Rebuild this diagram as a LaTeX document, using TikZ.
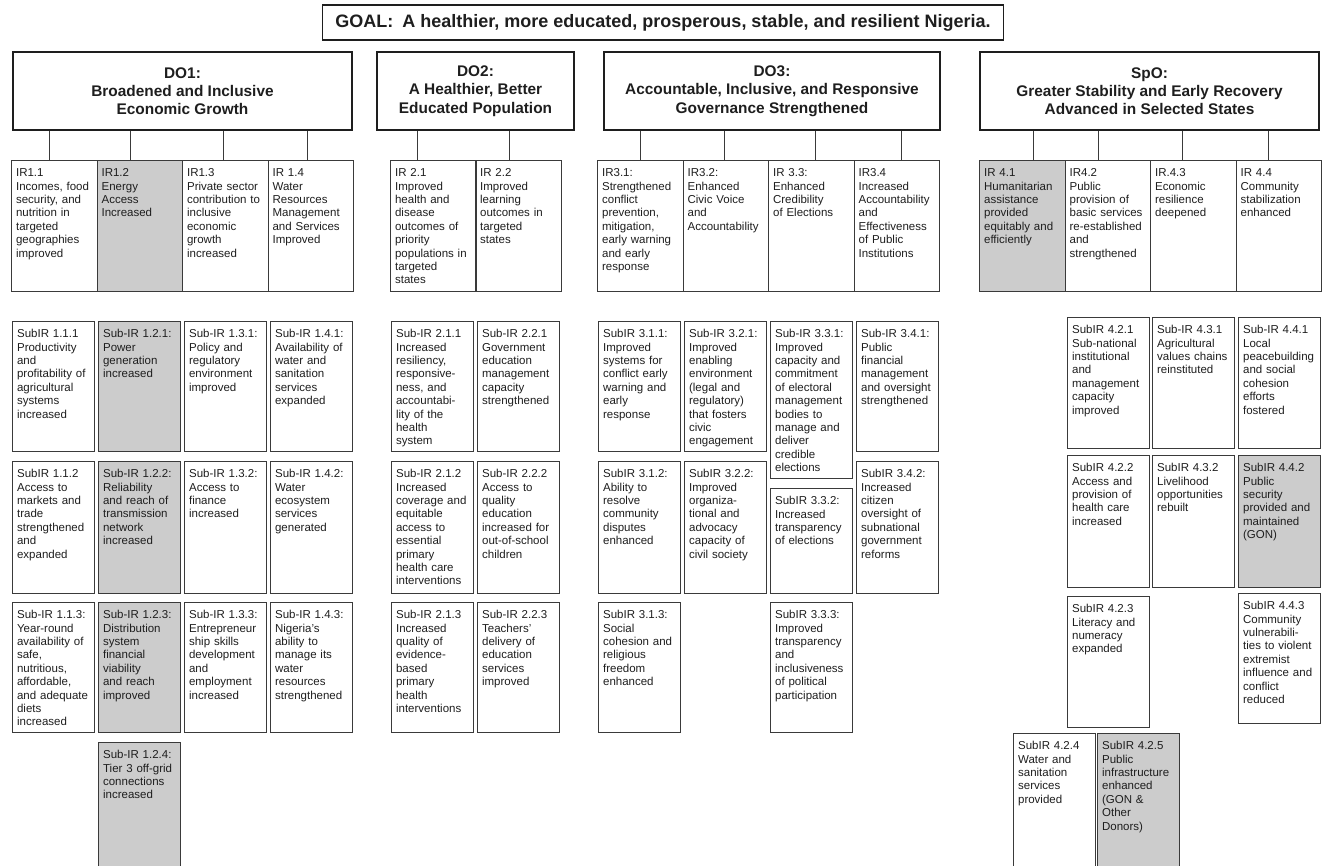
\documentclass[tikz,border=0pt]{standalone}
\usepackage{fontspec}
\setmainfont{Liberation Sans}
\usepackage{xcolor}
\usepackage{tikz}
\usetikzlibrary{positioning}

\definecolor{boxline}{HTML}{3A3A3A}
\definecolor{shade}{HTML}{CCCCCC}
\definecolor{ink}{HTML}{1E1E1E}

\newcommand{\cellfont}{\fontsize{11.5}{13.4}\selectfont}
\newcommand{\headfont}{\fontsize{15.4}{18.3}\selectfont\bfseries}
\newcommand{\goalfont}{\fontsize{18}{21}\selectfont\bfseries}

\begin{document}
\begin{tikzpicture}[x=1pt,y=-1pt,
    cell/.style={draw=boxline, line width=1.2pt, anchor=north west, inner xsep=4.5pt, inner ysep=0pt,
      align=left, text height=16pt, font=\cellfont, text=ink},
    ir/.style={cell, text width=76.5pt, text depth=115pt},
    sub/.style={cell, text width=73pt},
    h130/.style={text depth=114pt},
    h131/.style={text depth=115pt},
    h132/.style={text depth=116pt},
    cutoff/.style={text depth=140pt},
    head/.style={draw=ink, line width=2pt, anchor=north west, inner sep=0pt, align=center,
      minimum height=78pt, font=\headfont, text=ink},
    goalbox/.style={draw=ink, line width=1.6pt, inner sep=0pt, minimum width=681pt,
      minimum height=35pt, font=\goalfont, text=ink},
    link/.style={draw=boxline, line width=1pt}]
    \useasboundingbox (0,0) rectangle (1327,865);

    % goal and objectives
    \node[goalbox] (goal) at (663,22.5) {GOAL:\hspace{9pt}A healthier, more educated, prosperous, stable, and resilient Nigeria.};
    \node[head, minimum width=339pt] (do1) at (12,51) {DO1:\\Broadened and Inclusive\\Economic Growth};
    \node[head, minimum width=197pt] (do2) at (376,51) {DO2:\\A Healthier, Better\\Educated Population};
    \node[head, minimum width=336pt] (do3) at (603,51) {DO3:\\Accountable, Inclusive, and Responsive\\Governance Strengthened};
    \node[head, minimum width=339pt] (spo) at (979,51) {SpO:\\Greater Stability and Early Recovery\\Advanced in Selected States};

    % intermediate results
    \node[ir] (ir11) at (11,160) {IR1.1\\Incomes, food\\security, and\\nutrition in\\targeted\\geographies\\improved};
    \node[ir, fill=shade] (ir12) at (96.5,160) {IR1.2\\Energy\\Access\\Increased};
    \node[ir] (ir13) at (182,160) {IR1.3\\Private sector\\contribution to\\inclusive\\economic\\growth\\increased};
    \node[ir] (ir14) at (267.5,160) {IR 1.4\\Water\\Resources\\Management\\and Services\\Improved};
    \node[ir] (ir21) at (390,160) {IR 2.1\\Improved\\health and\\disease\\outcomes of\\priority\\populations in\\targeted\\states};
    \node[ir] (ir22) at (475,160) {IR 2.2\\Improved\\learning\\outcomes in\\targeted\\states};
    \node[ir] (ir31) at (597,160) {IR3.1:\\Strengthened\\conflict\\prevention,\\mitigation,\\early warning\\and early\\response};
    \node[ir] (ir32) at (682.5,160) {IR3.2:\\Enhanced\\Civic Voice\\and\\Accountability};
    \node[ir] (ir33) at (768,160) {IR 3.3:\\Enhanced\\Credibility\\of Elections};
    \node[ir] (ir34) at (853.5,160) {IR3.4\\Increased\\Accountability\\and\\Effectiveness\\of Public\\Institutions};
    \node[ir, fill=shade] (ir41) at (979,160) {IR 4.1\\Humanitarian\\assistance\\provided\\equitably and\\efficiently};
    \node[ir] (ir42) at (1064.5,160) {IR4.2\\Public\\provision of\\basic services\\re-established\\and\\strengthened};
    \node[ir] (ir43) at (1150,160) {IR.4.3\\Economic\\resilience\\deepened};
    \node[ir] (ir44) at (1235.5,160) {IR 4.4\\Community\\stabilization\\enhanced};

    \draw[link] ([xshift=-5pt]ir11.north) -- ([xshift=-5pt]ir11.north |- do1.south);
    \draw[link] ([xshift=-9pt]ir12.north) -- ([xshift=-9pt]ir12.north |- do1.south);
    \draw[link] ([xshift=-2pt]ir13.north) -- ([xshift=-2pt]ir13.north |- do1.south);
    \draw[link] ([xshift=-3pt]ir14.north) -- ([xshift=-3pt]ir14.north |- do1.south);
    \draw[link] ([xshift=-16pt]ir21.north) -- ([xshift=-16pt]ir21.north |- do2.south);
    \draw[link] ([xshift=-9pt]ir22.north) -- ([xshift=-9pt]ir22.north |- do2.south);
    \draw[link] (ir31.north) -- (ir31.north |- do3.south);
    \draw[link] ([xshift=-1pt]ir32.north) -- ([xshift=-1pt]ir32.north |- do3.south);
    \draw[link] ([xshift=4pt]ir33.north) -- ([xshift=4pt]ir33.north |- do3.south);
    \draw[link] ([xshift=5pt]ir34.north) -- ([xshift=5pt]ir34.north |- do3.south);
    \draw[link] ([xshift=11pt]ir41.north) -- ([xshift=11pt]ir41.north |- spo.south);
    \draw[link] ([xshift=-9pt]ir42.north) -- ([xshift=-9pt]ir42.north |- spo.south);
    \draw[link] ([xshift=-11pt]ir43.north) -- ([xshift=-11pt]ir43.north |- spo.south);
    \draw[link] ([xshift=-10pt]ir44.north) -- ([xshift=-10pt]ir44.north |- spo.south);

    % sub-results DO1
    \node[sub, h130] (s111) at (12,321) {SubIR 1.1.1\\Productivity\\and\\profitability of\\agricultural\\systems\\increased};
    \node[sub, h130, fill=shade] (s121) at (98,321) {Sub-IR 1.2.1:\\Power\\generation\\increased};
    \node[sub, h130] (s131) at (184,321) {Sub-IR 1.3.1:\\Policy and\\regulatory\\environment\\improved};
    \node[sub, h130] (s141) at (270,321) {Sub-IR 1.4.1:\\Availability of\\water and\\sanitation\\services\\expanded};
    \node[sub, h132] (s112) at (12,461) {SubIR 1.1.2\\Access to\\markets and\\trade\\strengthened\\and\\expanded};
    \node[sub, h132, fill=shade] (s122) at (98,461) {Sub-IR 1.2.2:\\Reliability\\and reach of\\transmission\\network\\increased};
    \node[sub, h132] (s132) at (184,461) {Sub-IR 1.3.2:\\Access to\\finance\\increased};
    \node[sub, h132] (s142) at (270,461) {Sub-IR 1.4.2:\\Water\\ecosystem\\services\\generated};
    \node[sub, h130] (s113) at (12,602) {Sub-IR 1.1.3:\\Year-round\\availability of\\safe,\\nutritious,\\affordable,\\and adequate\\diets\\increased};
    \node[sub, h130, fill=shade] (s123) at (98,602) {Sub-IR 1.2.3:\\Distribution\\system\\financial\\viability\\and reach\\improved};
    \node[sub, h130] (s133) at (184,602) {Sub-IR 1.3.3:\\Entrepreneur\\ship skills\\development\\and\\employment\\increased};
    \node[sub, h130] (s143) at (270,602) {Sub-IR 1.4.3:\\Nigeria's\\ability to\\manage its\\water\\resources\\strengthened};
    \node[sub, cutoff, fill=shade] (s124) at (98,742) {Sub-IR 1.2.4:\\Tier 3 off-grid\\connections\\increased};

    % sub-results DO2
    \node[sub, h130] (s211) at (391,321) {Sub-IR 2.1.1\\Increased\\resiliency,\\responsive-\\ness, and\\accountabi-\\lity of the\\health\\system};
    \node[sub, h130] (s221) at (477,321) {Sub-IR 2.2.1\\Government\\education\\management\\capacity\\strengthened};
    \node[sub, h132] (s212) at (391,461) {Sub-IR 2.1.2\\Increased\\coverage and\\equitable\\access to\\essential\\primary\\health care\\interventions};
    \node[sub, h132] (s222) at (477,461) {Sub-IR 2.2.2\\Access to\\quality\\education\\increased for\\out-of-school\\children};
    \node[sub, h130] (s213) at (391,602) {Sub-IR 2.1.3\\Increased\\quality of\\evidence-\\based\\primary\\health\\interventions};
    \node[sub, h130] (s223) at (477,602) {Sub-IR 2.2.3\\Teachers'\\delivery of\\education\\services\\improved};

    % sub-results DO3
    \node[sub, h130] (s311) at (598,321) {SubIR 3.1.1:\\Improved\\systems for\\conflict early\\warning and\\early\\response};
    \node[sub, h130] (s321) at (684,321) {Sub-IR 3.2.1:\\Improved\\enabling\\environment\\(legal and\\regulatory)\\that fosters\\civic\\engagement};
    \node[sub, text depth=141pt] (s331) at (770,321) {Sub-IR 3.3.1:\\Improved\\capacity and\\commitment\\of electoral\\management\\bodies to\\manage and\\deliver\\credible\\elections};
    \node[sub, h130] (s341) at (856,321) {Sub-IR 3.4.1:\\Public\\financial\\management\\and oversight\\strengthened};
    \node[sub, h132] (s312) at (598,461) {SubIR 3.1.2:\\Ability to\\resolve\\community\\disputes\\enhanced};
    \node[sub, h132] (s322) at (684,461) {SubIR 3.2.2:\\Improved\\organiza-\\tional and\\advocacy\\capacity of\\civil society};
    \node[sub, text depth=89pt] (s332) at (770,488) {SubIR 3.3.2:\\Increased\\transparency\\of elections};
    \node[sub, h132] (s342) at (856,461) {SubIR 3.4.2:\\Increased\\citizen\\oversight of\\subnational\\government\\reforms};
    \node[sub, h130] (s313) at (598,602) {SubIR 3.1.3:\\Social\\cohesion and\\religious\\freedom\\enhanced};
    \node[sub, h130] (s333) at (770,602) {SubIR 3.3.3:\\Improved\\transparency\\and\\inclusiveness\\of political\\participation};

    % sub-results SpO
    \node[sub, h131] (s421) at (1067,317) {SubIR 4.2.1\\Sub-national\\institutional\\and\\management\\capacity\\improved};
    \node[sub, h131] (s431) at (1152,317) {Sub-IR 4.3.1\\Agricultural\\values chains\\reinstituted};
    \node[sub, h131] (s441) at (1238,317) {Sub-IR 4.4.1\\Local\\peacebuilding\\and social\\cohesion\\efforts\\fostered};
    \node[sub, h132] (s422) at (1067,455) {SubIR 4.2.2\\Access and\\provision of\\health care\\increased};
    \node[sub, h132] (s432) at (1152,455) {SubIR 4.3.2\\Livelihood\\opportunities\\rebuilt};
    \node[sub, h132, fill=shade] (s442) at (1238,455) {SubIR 4.4.2\\Public\\security\\provided and\\maintained\\(GON)};
    \node[sub, h131] (s423) at (1067,596) {SubIR 4.2.3\\Literacy and\\numeracy\\expanded};
    \node[sub, h130] (s443) at (1238,593) {SubIR 4.4.3\\Community\\vulnerabili-\\ties to violent\\extremist\\influence and\\conflict\\reduced};
    \node[sub, cutoff] (s424) at (1013,733) {SubIR 4.2.4\\Water and\\sanitation\\services\\provided};
    \node[sub, cutoff, fill=shade] (s425) at (1097,733) {SubIR 4.2.5\\Public\\infrastructure\\enhanced\\(GON \&\\Other\\Donors)};
\end{tikzpicture}
\end{document}
